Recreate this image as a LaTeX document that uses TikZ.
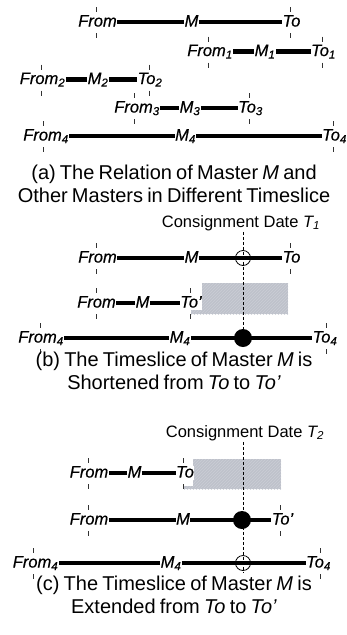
\documentclass[tikz,border=0pt]{standalone}
\usepackage{fontspec}
\setmainfont{Liberation Sans}
\newfontfamily\labfont{Liberation Sans}[FakeBold=0.5]
\usetikzlibrary{patterns}
\definecolor{slicegray}{RGB}{190,194,203}
\definecolor{hatchline}{RGB}{203,206,213}
\definecolor{tickgray}{RGB}{50,50,50}
\newcommand\captionfont{\fontsize{20}{23}\selectfont\spaceskip=4.2pt plus 1pt minus 0.5pt\relax}

\tikzset{
  lab/.style={font=\fontsize{16.5}{16.5}\labfont\itshape, fill=white,
              inner sep=0.4pt, text height=11pt, text depth=2pt},
  capt/.style={font=\captionfont, align=center, inner sep=0pt},
  cons/.style={font=\fontsize{16.5}{16.5}\selectfont, inner sep=1pt},
  bar/.style={line width=4.3pt},
  tickmark/.style={line width=0.6pt, tickgray},
  guide/.style={line width=0.7pt, dash pattern=on 3pt off 2pt},
  opendot/.style={circle, draw, line width=0.8pt, minimum size=15pt, inner sep=0pt},
  fulldot/.style={circle, fill=black, minimum size=18pt, inner sep=0pt},
  slice/.style={fill=slicegray},
  slicehatch/.style={pattern=north east lines, pattern color=hatchline}
}

\begin{document}
\begin{tikzpicture}[x=1pt,y=-1pt]
\useasboundingbox (0,0) rectangle (347,635);

% ---------- removed / added parts of the timeslice
\fill[slice] (191,283) rectangle (288,314);
\fill[slicehatch] (191,283) rectangle (288,314);
\fill[slice] (184,459) rectangle (281,489);
\fill[slicehatch] (184,459) rectangle (281,489);

% ---------- white frames of the two shifted end labels
\fill[white] (191,283) rectangle (202,308);
\fill[white] (184,459) rectangle (193,486);

% ---------- short ticks marking the start and end of each timeslice
\foreach \tx/\ty in {96/22,290/22, 208/51.5,322/51.5, 41/79.5,149/79.5,
                     134/108,249/108, 43/136,333/136,
                     96/258,290/258, 96/303,190/303, 40/338,326/338,
                     88/473,183/473, 88/520,280/520, 33/563,320/563}
  \draw[tickmark] (\tx,\ty-15) -- (\tx,\ty-10) (\tx,\ty+11) -- (\tx,\ty+16);

% ================= (a)
\node[lab] (aF)  at (97.5,22)  {From};
\node[lab] (aM)  at (191.5,22) {M};
\node[lab] (aT)  at (291.5,22) {To};
\node[lab] (aF1) at (210,51.5) {From\textsubscript{1}};
\node[lab] (aM1) at (265,51.5) {M\textsubscript{1}};
\node[lab] (aT1) at (323.5,51.5) {To\textsubscript{1}};
\node[lab] (aF2) at (42.5,79.5) {From\textsubscript{2}};
\node[lab] (aM2) at (98,79.5)   {M\textsubscript{2}};
\node[lab] (aT2) at (150,79.5)  {To\textsubscript{2}};
\node[lab] (aF3) at (137,108)   {From\textsubscript{3}};
\node[lab] (aM3) at (190,108)   {M\textsubscript{3}};
\node[lab] (aT3) at (250.5,108) {To\textsubscript{3}};
\node[lab] (aF4) at (46,136)    {From\textsubscript{4}};
\node[lab] (aM4) at (185.5,136) {M\textsubscript{4}};
\node[lab] (aT4) at (334.5,136) {To\textsubscript{4}};
\draw[bar] (aF) -- (aM) -- (aT);
\draw[bar] (aF1) -- (aM1) -- (aT1);
\draw[bar] (aF2) -- (aM2) -- (aT2);
\draw[bar] (aF3) -- (aM3) -- (aT3);
\draw[bar] (aF4) -- (aM4) -- (aT4);
\node[capt] (capA) at (174,184)
  {(a) The Relation of Master \textit{M} and\\Other Masters in Different Timeslice};

% ================= (b)
\node[cons] (consB) at (241,223) {Consignment Date \textit{T\textsubscript{1}}};
\node[lab] (bF)  at (97.5,258)  {From};
\node[lab] (bM)  at (191.5,258) {M};
\node[lab] (bT)  at (291.5,258) {To};
\node[lab] (bFs) at (96.5,303)  {From};
\node[lab] (bMs) at (142.5,303) {M};
\node[lab] (bTs) at (191,303)   {To’};
\node[lab] (bF4) at (41,338)    {From\textsubscript{4}};
\node[lab] (bM4) at (180,338)   {M\textsubscript{4}};
\node[lab] (bT4) at (325,338)   {To\textsubscript{4}};
\draw[bar] (bF) -- (bM) -- (bT);
\draw[bar] (bFs) -- (bMs) -- (bTs);
\draw[bar] (bF4) -- (bM4) -- (bT4);
\node[opendot] (bC) at (243,258) {};
\node[fulldot] (bD) at (243,338) {};
\draw[guide] (consB.south -| bD) -- (bD.center);
\node[capt] (capB) at (174,370.5)
  {(b) The Timeslice of Master \textit{M} is\\Shortened from \textit{To} to \textit{To’}};

% ================= (c)
\node[cons] (consC) at (245,433) {Consignment Date \textit{T\textsubscript{2}}};
\node[lab] (cFs) at (89,473)    {From};
\node[lab] (cMs) at (134.5,473) {M};
\node[lab] (cTs) at (185,473)   {To};
\node[lab] (cF)  at (89,520)    {From};
\node[lab] (cM)  at (183,520)   {M};
\node[lab] (cT)  at (282.5,520) {To’};
\node[lab] (cF4) at (35.5,563)  {From\textsubscript{4}};
\node[lab] (cM4) at (171,563)   {M\textsubscript{4}};
\node[lab] (cT4) at (318.5,563) {To\textsubscript{4}};
\draw[bar] (cFs) -- (cMs) -- (cTs);
\draw[bar] (cF) -- (cM) -- (cT);
\draw[bar] (cF4) -- (cM4) -- (cT4);
\node[fulldot] (cD) at (242,520) {};
\node[opendot] (cC) at (243,563) {};
\draw[guide] (consC.south -| cC) -- ([yshift=-2pt]cC.south);
\node[capt] (capC) at (174,594.5)
  {(c) The Timeslice of Master \textit{M} is\\Extended from \textit{To} to \textit{To’}};
\end{tikzpicture}
\end{document}
